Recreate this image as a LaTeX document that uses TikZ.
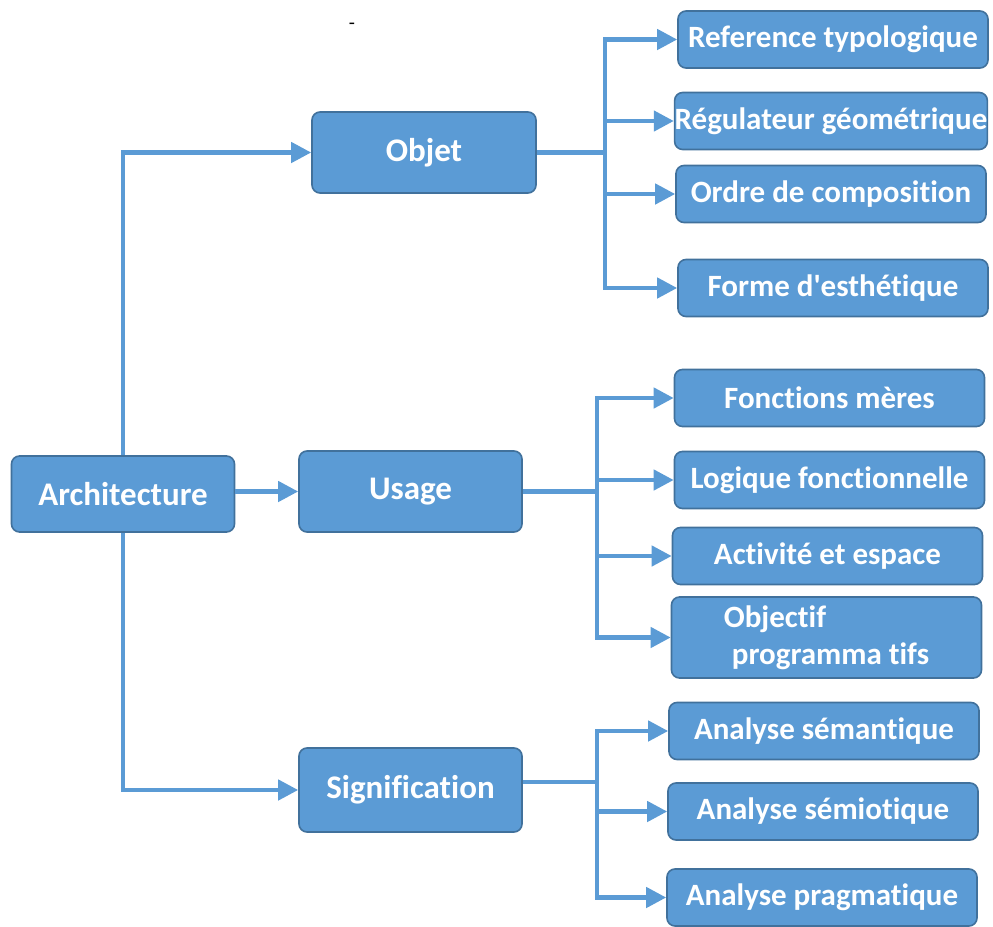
\documentclass[tikz,border=0pt]{standalone}
\usepackage{fontspec}
\setmainfont{Carlito}[Ligatures={NoCommon}]
\usetikzlibrary{arrows.meta,positioning,shapes}
\definecolor{boxblue}{HTML}{5B9BD5}
\definecolor{boxedge}{HTML}{41719C}
\tikzset{
  mainbox/.style={shape=rectangle, rounded corners=4pt, fill=boxblue, draw=boxedge,
    line width=0.8pt, text=white, font=\bfseries\fontsize{16.5}{19}\selectfont,
    inner sep=0pt, align=center, minimum width=111.5pt, minimum height=40.5pt},
  subbox/.style={mainbox, font=\bfseries\fontsize{15.5}{18.5}\selectfont,
    minimum width=155pt, minimum height=28.5pt},
  link/.style={draw=boxblue, line width=2.2pt, -{Triangle[length=10pt,width=10pt]}}
}

\begin{document}
\begin{tikzpicture}
  [x=0.5pt, y=-0.5pt]
  \useasboundingbox (0,0) rectangle (993,927);

  % main branches
  \node[mainbox, minimum height=38pt] (arch) at (123,494) {Architecture};
  \node[mainbox, minimum width=112pt] (objet) at (424,152.5) {Objet};
  \node[mainbox] (usage) at (410.5,491.5) {Usage};
  \node[mainbox, minimum height=42pt] (signif) at (410.5,790) {Signification};
  \node (tiret) at (352,26) {-};

  % objet
  \node[subbox] (ref) at (833,39.5) {Reference typologique};
  \node[subbox] (reg) at (831,121) {R\'egulateur g\'eom\'etrique};
  \node[subbox] (ordre) at (831,194) {Ordre de composition};
  \node[subbox] (forme) at (833,288) {Forme d\textquotesingle esth\'etique};

  % usage
  \node[subbox] (fonc) at (829.5,398) {Fonctions m\`eres};
  \node[subbox] (logi) at (829.5,480) {Logique fonctionnelle};
  \node[subbox] (acti) at (827.5,556) {Activit\'e et espace};
  \node[subbox, minimum height=40.5pt, align=left] (obje) at (826.5,637.5)
    {Objectif\\\hspace*{4pt}programma tifs};

  % signification
  \node[subbox] (sema) at (824,731) {Analyse s\'emantique};
  \node[subbox] (semi) at (823,811.5) {Analyse s\'emiotique};
  \node[subbox] (prag) at (822,897.5) {Analyse pragmatique};

  \coordinate (objbus) at (605,152.5);
  \coordinate (usebus) at (597,491.5);
  \coordinate (sigbus) at (597,782);

  \draw[link] (arch.north) |- (objet.west);
  \draw[link] (arch.east |- usage) -- (usage.west);
  \draw[link] (arch.south) |- (signif.west);

  \foreach \c in {ref,reg,ordre,forme}
    \draw[link] (objet.east) -- (objbus) |- (\c.west);
  \foreach \c in {fonc,logi,acti,obje}
    \draw[link] (usage.east) -- (usebus) |- (\c.west);
  \foreach \c in {sema,semi,prag}
    \draw[link] (signif.east |- sigbus) -- (sigbus) |- (\c.west);
\end{tikzpicture}
\end{document}
